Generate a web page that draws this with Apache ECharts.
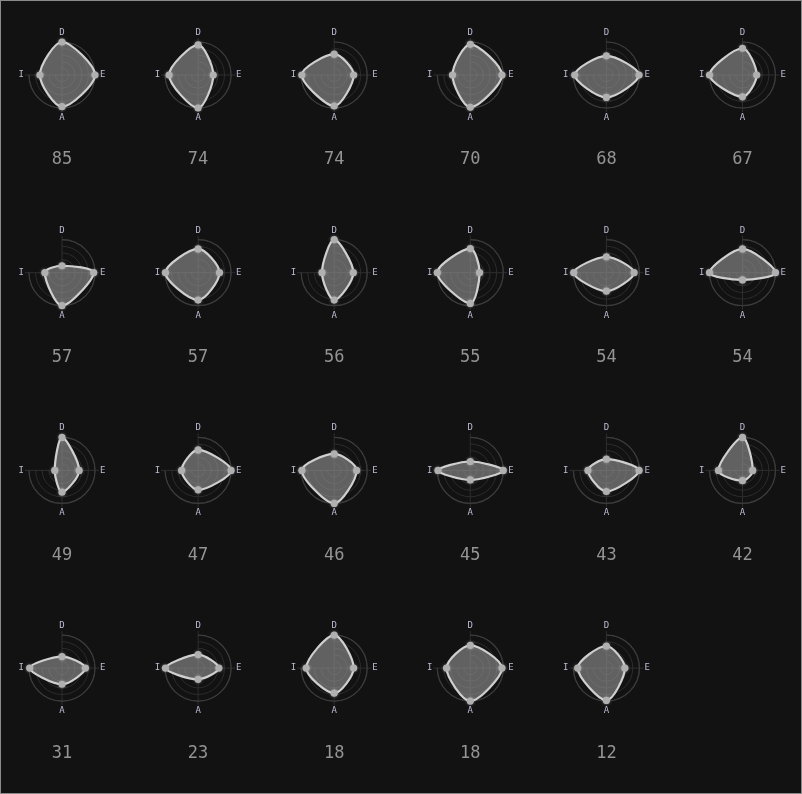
<!DOCTYPE html>
<html><head><meta charset="utf-8">
<script src="https://cdn.jsdelivr.net/npm/echarts@6/dist/echarts.min.js"></script>
<style>
html,body{margin:0;padding:0;background:#121212;}
#wrap{width:802px;height:794px;box-sizing:border-box;border:1px solid #8a8a8a;background:#121212;}
#chart{width:800px;height:792px;}
</style></head><body>
<div id="wrap"><div id="chart"></div></div>
<script>
const axes = ['D', 'E', 'A', 'I'];
const scores = [85, 74, 74, 70, 68, 67, 57, 57, 56, 55, 54, 54, 49, 47, 46, 45, 43, 42, 31, 23, 18, 18, 12];
const valD = [100, 91, 63, 93, 58, 81, 21, 72, 100, 73, 48, 72, 100, 62, 50, 27, 34, 100, 35, 41, 100, 69, 67];
const valE = [100, 46, 59, 96, 99, 43, 96, 65, 58, 28, 84, 100, 52, 100, 68, 100, 99, 31, 71, 63, 59, 96, 56];
const valA = [96, 100, 94, 98, 68, 66, 100, 83, 83, 93, 56, 22, 66, 59, 100, 29, 64, 31, 49, 34, 76, 100, 98];
const valI = [67, 88, 98, 54, 96, 100, 52, 99, 37, 100, 99, 100, 22, 50, 98, 98, 56, 73, 98, 99, 85, 72, 87];
const values = [valD, valE, valA, valI];

function renderItem(params, api) {
  const children = [];
  if (params.dataIndexInside === 0) {
    const pts = [];
    for (let j = 0; j < params.dataInsideLength; j++) {
      pts.push(api.coord([api.value(0, j), api.value(1, j)]));
    }
    children.push({
      type: 'polygon',
      shape: { points: pts, smooth: 0.3 },
      style: { fill: 'rgba(150,150,150,0.6)', stroke: '#cfcfcf', lineWidth: 2.2, lineJoin: 'round' }
    });
  }
  const p = api.coord([api.value(0), api.value(1)]);
  children.push({ type: 'circle', shape: { cx: p[0], cy: p[1], r: 3.6 },
    style: { fill: '#b0b0b0', shadowBlur: 3, shadowColor: 'rgba(255,255,255,0.35)' } });
  return { type: 'group', children: children };
}

const polar = [], angleAxis = [], radiusAxis = [], series = [], graphic = [];
scores.forEach(function (s, k) {
  const c = k % 6, r = Math.floor(k / 6);
  const cx = 61 + 136.1 * c, cy = 74 + 197.7 * r;
  polar.push({ center: [cx, cy], radius: 33 });
  angleAxis.push({
    polarIndex: k, type: 'category', data: axes, boundaryGap: false,
    startAngle: 90, clockwise: true,
    axisLine: { lineStyle: { color: '#3c3c3c', width: 1.2 } },
    axisTick: { show: true, inside: false, length: 4, lineStyle: { color: '#2e2e2e' } },
    axisLabel: { margin: 5, color: '#bcbcd4', fontSize: 9, fontFamily: 'DejaVu Sans Mono' },
    splitLine: { show: true, lineStyle: { color: '#2e2e2e' } }
  });
  radiusAxis.push({
    polarIndex: k, type: 'value', min: 0, max: 100, interval: 20,
    axisLine: { show: false }, axisTick: { show: false }, axisLabel: { show: false },
    splitLine: { show: true, lineStyle: { color: '#2c2c2c' } }
  });
  series.push({
    type: 'custom', coordinateSystem: 'polar', polarIndex: k,
    data: axes.map(function (a, i) { return [values[i][k], i]; }),
    encode: { radius: 0, angle: 1 },
    renderItem: renderItem, silent: true, animation: false
  });
  graphic.push({
    type: 'text', x: cx, y: cy + 85,
    style: { text: String(s), fill: '#949494', font: '17px "DejaVu Sans Mono"', textAlign: 'center', textVerticalAlign: 'middle' }
  });
});

const chart = echarts.init(document.getElementById('chart'));
chart.setOption({
  backgroundColor: '#121212',
  animation: false,
  polar: polar, angleAxis: angleAxis, radiusAxis: radiusAxis,
  series: series, graphic: graphic
});
</script>
</body></html>
